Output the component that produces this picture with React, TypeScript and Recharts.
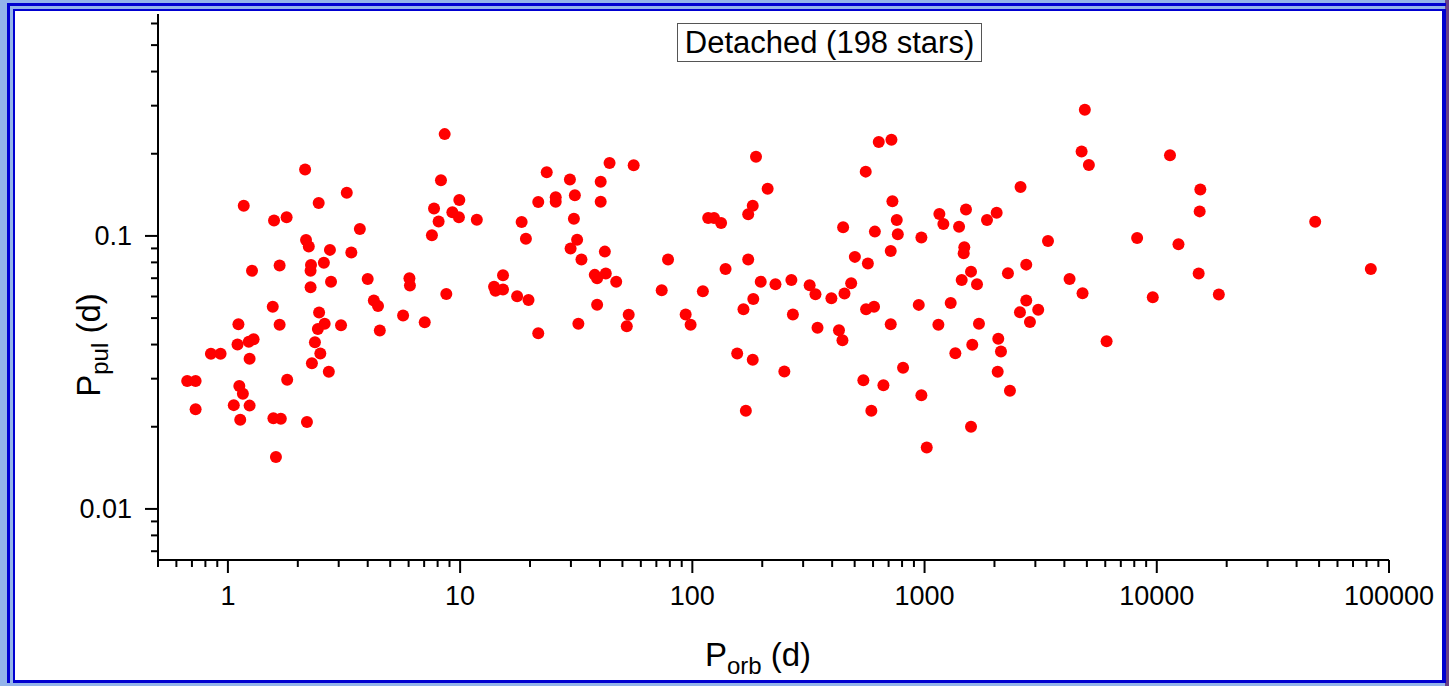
import React from "react"
import { ScatterChart, Scatter, XAxis, YAxis, Label } from "recharts"

// orbital period (d) and pulsation period (d)
const porbDays = [
    1.17, 1.58, 1.79, 1.27, 1.67, 1.56, 1.11, 1.67, 1.10, 1.23, 1.29, 0.845, 0.93, 1.24, 0.668, 0.726, 1.80, 1.12, 1.16, 0.726, 1.06, 1.24, 1.13, 1.57, 1.69, 1.61,
    8.58, 2.15, 8.27, 3.25, 2.46, 9.92, 7.72, 9.26, 9.88, 8.08, 7.56, 3.70, 2.17, 2.23, 2.75, 3.40, 2.59, 2.28, 2.27, 2.78, 2.27, 4.00, 6.05, 6.08, 8.72, 4.25, 4.43, 2.47, 2.61, 2.44, 3.07, 5.68, 7.04, 4.51, 2.37, 2.50, 2.30, 2.72, 2.19,
    44.0, 55.9, 23.6, 29.7, 40.3, 21.7, 25.8, 25.8, 31.2, 40.3, 11.8, 18.4, 30.9, 19.2, 31.9, 29.9, 42.0, 33.3, 78.6, 15.3, 14.0, 14.2, 15.3, 17.6, 19.7, 38.0, 38.9, 42.4, 47.0, 73.8, 38.9, 53.2, 52.2, 93.6, 98.3, 32.3, 21.7,
    635, 720, 188, 558, 211, 182, 174, 117, 124, 133, 727, 759, 767, 446, 611, 715, 174, 139, 501, 570, 111, 197, 228, 267, 320, 339, 397, 452, 483, 183, 166, 271, 560, 606, 715, 346, 428, 443, 156, 182, 249, 545, 665, 170, 590,
    4900, 4745, 5100, 2590, 1158, 1205, 1508, 1408, 1857, 2044, 969, 3400, 1483, 1474, 2741, 2286, 1585, 1445, 1682, 4212, 4790, 944, 1296, 2741, 2575, 3086, 2843, 1147, 1715, 2077, 1605, 1357, 2133, 808, 2065, 2332, 969, 1585, 1022,
    11400, 15400, 15300, 48100, 8230, 12400, 83500, 15150, 9610, 18500, 6080,
]

const ppulDays = [
    0.129, 0.114, 0.117, 0.0746, 0.078, 0.055, 0.0475, 0.0473, 0.040, 0.041, 0.0418, 0.037, 0.037, 0.0355, 0.0294, 0.0294, 0.0297, 0.0282, 0.0264, 0.0232, 0.024, 0.0239, 0.0212, 0.0215, 0.0214, 0.0155,
    0.236, 0.175, 0.160, 0.144, 0.132, 0.1355, 0.126, 0.122, 0.117, 0.113, 0.1006, 0.106, 0.0967, 0.0914, 0.0889, 0.0869, 0.0798, 0.0783, 0.0746, 0.068, 0.0649, 0.0696, 0.070, 0.0658, 0.0613, 0.058, 0.0554, 0.0524, 0.0477, 0.0456, 0.0471, 0.0511, 0.0483, 0.045, 0.0408, 0.0371, 0.0342, 0.0318, 0.0208,
    0.185, 0.1815, 0.171, 0.161, 0.158, 0.133, 0.1386, 0.1335, 0.141, 0.1335, 0.1147, 0.1125, 0.1157, 0.0977, 0.0969, 0.0899, 0.0876, 0.0819, 0.0819, 0.0718, 0.0652, 0.063, 0.0636, 0.0601, 0.0583, 0.072, 0.070, 0.0728, 0.068, 0.0633, 0.056, 0.0514, 0.0467, 0.0515, 0.0473, 0.0477, 0.044,
    0.221, 0.225, 0.195, 0.172, 0.149, 0.129, 0.120, 0.1164, 0.1164, 0.1116, 0.134, 0.1144, 0.1014, 0.1076, 0.1037, 0.0881, 0.0819, 0.0757, 0.0838, 0.0792, 0.0627, 0.068, 0.0665, 0.069, 0.066, 0.0612, 0.0591, 0.0615, 0.0671, 0.0588, 0.0539, 0.0515, 0.0539, 0.055, 0.0475, 0.0461, 0.0451, 0.0415, 0.0371, 0.0352, 0.0319, 0.0296, 0.0284, 0.0229, 0.0229,
    0.290, 0.204, 0.182, 0.151, 0.1204, 0.1106, 0.125, 0.108, 0.1144, 0.1217, 0.0986, 0.0959, 0.0909, 0.0864, 0.0785, 0.073, 0.074, 0.069, 0.0665, 0.0696, 0.0617, 0.0559, 0.0568, 0.058, 0.0525, 0.0536, 0.0484, 0.0473, 0.0477, 0.042, 0.0399, 0.0372, 0.0377, 0.0329, 0.0318, 0.0271, 0.0261, 0.020, 0.0168,
    0.1975, 0.148, 0.123, 0.1128, 0.0983, 0.0932, 0.0757, 0.0728, 0.0596, 0.061, 0.0411,
]

const xTicks = [
    0.5, 0.6, 0.7, 0.8, 0.9, 1, 2, 3, 4, 5, 6, 7, 8, 9, 10, 20, 30, 40, 50, 60, 70, 80, 90,
    100, 200, 300, 400, 500, 600, 700, 800, 900, 1000, 2000, 3000, 4000, 5000, 6000, 7000, 8000, 9000,
    10000, 20000, 30000, 40000, 50000, 60000, 70000, 80000, 90000, 100000,
]
const yTicks = [0.007, 0.008, 0.009, 0.01, 0.02, 0.03, 0.04, 0.05, 0.06, 0.07, 0.08, 0.09, 0.1, 0.2, 0.3, 0.4, 0.5, 0.6]

const points = porbDays.map((p, i) => ({ porb: p, ppul: ppulDays[i] }))

const FONT = "'Liberation Sans', Arial, sans-serif"
const BLUE = "#0000d0"

const isDecade = (v: number) => Math.abs(Math.log10(v) - Math.round(Math.log10(v))) < 1e-6

const XTick = ({ x, y, payload }: any) => {
    const major = isDecade(payload.value)
    return (
        <g>
            <line x1={x} x2={x} y1={y} y2={y + (major ? 13 : 7)} stroke="#000" strokeWidth={2} />
            {major && (
                <text x={x} y={y + 45} textAnchor="middle" fontSize={27} fontFamily={FONT} fill="#000">
                    {String(payload.value)}
                </text>
            )}
        </g>
    )
}

const YTick = ({ x, y, payload }: any) => {
    const major = isDecade(payload.value)
    return (
        <g>
            <line x1={x} x2={x - (major ? 13 : 7)} y1={y} y2={y} stroke="#000" strokeWidth={2} />
            {major && (
                <text x={x - 26} y={y + 9} textAnchor="end" fontSize={27} fontFamily={FONT} fill="#000">
                    {String(payload.value)}
                </text>
            )}
        </g>
    )
}

const XTitle = () => (
    <text x={758} y={666} textAnchor="middle" fontSize={33} fontFamily={FONT} fill="#000">
        P<tspan fontSize={24} dy={8}>orb</tspan>
        <tspan dy={-8}> (d)</tspan>
    </text>
)

const YTitle = () => (
    <text transform="rotate(-90)" x={-345} y={100} textAnchor="middle" fontSize={33} fontFamily={FONT} fill="#000">
        P<tspan fontSize={24} dy={8}>pul</tspan>
        <tspan dy={-8}> (d)</tspan>
    </text>
)

const RedDot = (props: any) => <circle cx={props.cx} cy={props.cy} r={6} fill="#ff0000" />

export default function App() {
    return (
        <div style={{ position: "absolute", left: 0, top: 0, width: 1449, height: 686, background: "#93b4ea", overflow: "hidden" }}>
            <div style={{ position: "absolute", left: 1445, top: 0, width: 4, height: 686, background: "#6a3f86" }} />
            <div
                style={{
                    position: "absolute", left: 7, top: 3, width: 1439, height: 680, boxSizing: "border-box",
                    borderLeft: `3px solid ${BLUE}`, borderTop: `3px solid ${BLUE}`,
                }}
            />
            <div
                style={{
                    position: "absolute", left: 13, top: 9, width: 1433, height: 674, boxSizing: "border-box",
                    background: "#fff", borderLeft: `2px solid ${BLUE}`, borderTop: `2px solid ${BLUE}`,
                    borderRight: `4px solid ${BLUE}`, borderBottom: `3px solid ${BLUE}`,
                }}
            />
            <div style={{ position: "absolute", left: 0, top: 0 }}>
                <ScatterChart width={1449} height={686} margin={{ top: 14, right: 60, bottom: 0, left: 0 }}>
                    <XAxis
                        type="number"
                        dataKey="porb"
                        scale="log"
                        domain={[0.5, 100000]}
                        allowDataOverflow
                        ticks={xTicks}
                        interval={0}
                        height={126}
                        tickSize={0}
                        tickMargin={0}
                        tickLine={false}
                        tick={<XTick />}
                        axisLine={{ stroke: "#000", strokeWidth: 2 }}
                    >
                        <Label content={<XTitle />} />
                    </XAxis>
                    <YAxis
                        type="number"
                        dataKey="ppul"
                        scale="log"
                        domain={[0.0065, 0.65]}
                        allowDataOverflow
                        ticks={yTicks}
                        interval={0}
                        width={158}
                        tickSize={0}
                        tickMargin={0}
                        tickLine={false}
                        tick={<YTick />}
                        axisLine={{ stroke: "#000", strokeWidth: 2 }}
                    >
                        <Label content={<YTitle />} />
                    </YAxis>
                    <Scatter data={points} shape={RedDot} isAnimationActive={false} />
                </ScatterChart>
            </div>
            <div
                style={{
                    position: "absolute", left: 677, top: 23, width: 305, height: 39, boxSizing: "border-box",
                    border: "1px solid #555", background: "#fff", fontFamily: FONT, fontSize: 31,
                    lineHeight: "37px", textAlign: "center", color: "#000", whiteSpace: "nowrap",
                }}
            >
                Detached (198 stars)
            </div>
        </div>
    )
}
